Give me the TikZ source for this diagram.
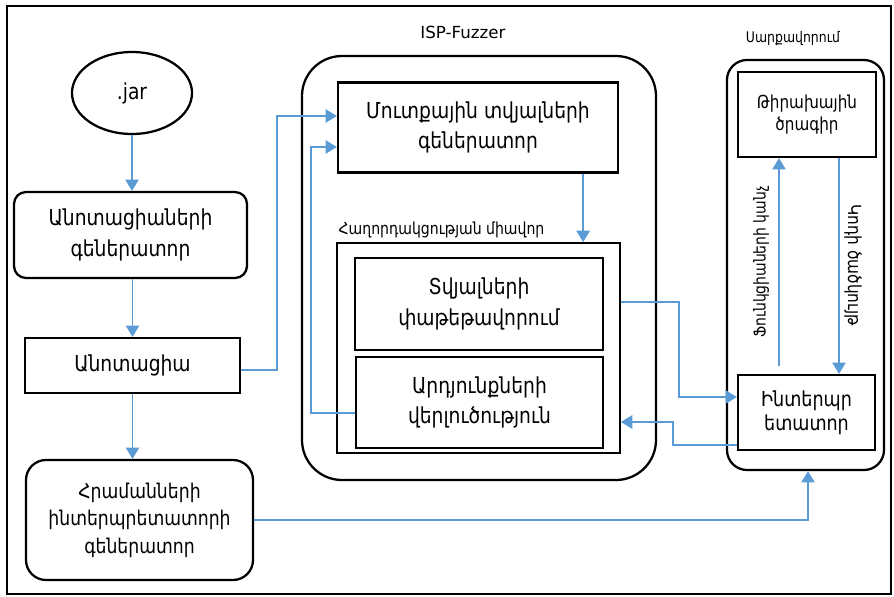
\documentclass[tikz,border=0pt]{standalone}
\usepackage{fontspec}
\setmainfont[FakeStretch=0.85]{DejaVu Sans}
\newfontfamily\latinfont{DejaVu Sans}
\usetikzlibrary{shapes.geometric,arrows.meta,calc}

\definecolor{flowblue}{RGB}{91,155,213}

\tikzset{
  x=0.75pt, y=-0.75pt,
  box/.style={draw=black, line width=1.7pt, fill=white, align=center,
    inner sep=0pt, font=\fontsize{16.5}{23}\selectfont},
  roundbox/.style={box, rounded corners=9pt},
  container/.style={draw=black, line width=1.7pt, inner sep=0pt},
  title/.style={font=\fontsize{12.4}{14}\selectfont, inner sep=1pt},
  flow/.style={draw=flowblue, line width=1.3pt,
    -{Triangle[length=8.5pt,width=10pt]}},
  sidelabel/.style={font=\fontsize{12.3}{14}\selectfont, inner sep=0pt},
}

\begin{document}
\begin{tikzpicture}
  % canvas and frame
  \fill[white] (0,0) rectangle (894,597);
  \useasboundingbox (0,0) rectangle (894,597);
  \draw[line width=1.6pt] (7,6) rectangle (891,594);

  % left column
  \node[box, ellipse, minimum width=90pt, minimum height=61.5pt] (jar) at (132,93) {.jar};
  \node[roundbox, minimum width=174.75pt, minimum height=64.5pt] (anngen) at (130.5,235)
    {Անոտացիաների\\գեներատոր};
  \node[box, minimum width=161.25pt, minimum height=41.25pt] (ann) at (132.5,365.5) {Անոտացիա};
  \node[roundbox, rounded corners=15pt, minimum width=170.25pt, minimum height=90pt,
    font=\fontsize{15.2}{20.6}\selectfont] (cmdgen) at (139.5,520)
    {Հրամանների\\ինտերպրետատորի\\գեներատոր};

  % ISP-Fuzzer block
  \node[container, rounded corners=30pt, minimum width=265.5pt, minimum height=318pt] (isp) at (479,268) {};
  \node[title, font=\latinfont\fontsize{12.5}{14}\selectfont] (isptitle) at (463,32) {ISP-Fuzzer};
  \node[box, minimum width=210pt, minimum height=67.5pt] (inputgen) at (478,127.5)
    {Մուտքային տվյալների\\գեներատոր};
  \node[box, line width=1.4pt, minimum width=212.25pt, minimum height=157.5pt] (comm) at (478.5,348) {};
  \node[title, anchor=south west] (commlabel) at (337,240) {Հաղորդակցության միավոր};
  \node[box, minimum width=186pt, minimum height=69pt] (pack) at (479,304)
    {Տվյալների\\փաթեթավորում};
  \node[box, minimum width=185.25pt, minimum height=68.25pt] (anal) at (479.5,402.5)
    {Արդյունքների\\վերլուծություն};

  % hardware block
  \node[container, rounded corners=15pt, minimum width=117.75pt, minimum height=307.5pt] (hw) at (805.5,265) {};
  \node[title, font=\fontsize{11}{13}\selectfont] (hwtitle) at (793,38) {Սարքավորում};
  \node[box, font=\fontsize{13.4}{16}\selectfont, minimum width=103.5pt, minimum height=63.75pt] (target) at (807,114.5)
    {Թիրախային\\ծրագիր};
  \node[box, font=\fontsize{15.5}{18}\selectfont, minimum width=102.75pt, minimum height=56.25pt] (interp) at (806.5,412.5)
    {Ինտերպր\\ետատոր};

  % helper points for the straight vertical links
  \coordinate (gendrop) at ($(inputgen.south east)+(-36,0)$);
  \coordinate (callsfoot) at ($(interp.north)+(-27.5,-8)$);
  \coordinate (covertop) at ($(target.south)+(32,0)$);
  \coordinate (hwentry) at ($(hw.south)+(2.5,0)$);

  % left column flow
  \draw[flow] (jar.south) -- (jar.south |- anngen.north);
  \draw[flow] (ann.south |- anngen.south) -- (ann.north);
  \draw[flow] (ann.south) -- (ann.south |- cmdgen.north);

  % annotation into the input generator
  \draw[flow] ($(ann.east)+(0,4.5)$) -- (277,370) |- ($(inputgen.west)+(0,-11.5)$);
  % analysis feedback into the input generator
  \draw[flow] ($(anal.west)+(0,10.5)$) -- (311,413) |- ($(inputgen.west)+(0,19.5)$);
  % input generator into the communication unit
  \draw[flow] (gendrop) -- (gendrop |- comm.north);

  % communication unit to the interpreter and back
  \draw[flow] ($(comm.east)+(0,-46)$) -| (679,397) -- ($(interp.west)+(0,-15.5)$);
  \draw[flow] ($(interp.west)+(0,32.5)$) -| (673,422) -- ($(comm.east)+(0,74)$);

  % command interpreter generator to the hardware
  \draw[flow] (cmdgen.east) -| (hwentry);

  % calls and coverage inside the hardware
  \draw[flow] (callsfoot) -- (callsfoot |- target.south);
  \draw[flow] (covertop) -- (covertop |- interp.north);
  \node[sidelabel, rotate=90] (calls) at (761,262) {Ֆունկցիաների կանչ};
  \node[sidelabel, font=\fontsize{13.5}{15}\selectfont, rotate=-90] (cover) at (853,265) {Կոդի ծածկույթ};
\end{tikzpicture}
\end{document}
